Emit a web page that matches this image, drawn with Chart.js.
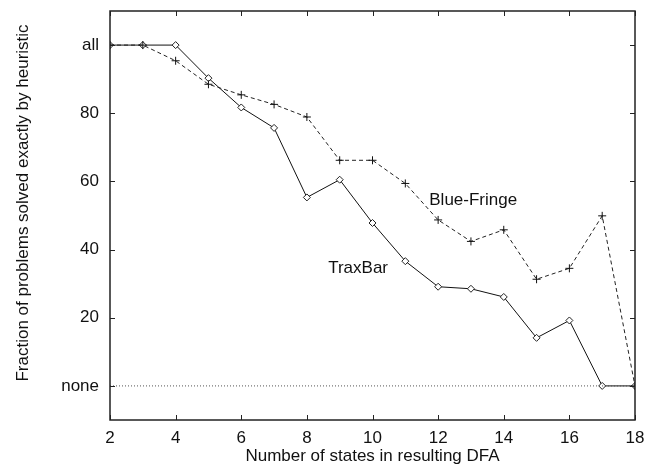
<!DOCTYPE html>
<html>
<head>
<meta charset="utf-8">
<script src="https://cdn.jsdelivr.net/npm/chart.js@4"></script>
<style>
  html, body { margin: 0; padding: 0; background: #fff; }
  #wrap { width: 646px; height: 465px; }
</style>
</head>
<body>
<div id="wrap"><canvas id="c" width="646" height="465"></canvas></div>
<script>
// number of states in the resulting DFA
const states = [2, 3, 4, 5, 6, 7, 8, 9, 10, 11, 12, 13, 14, 15, 16, 17, 18];
// percent of problems solved exactly (0 = none, 100 = all)
const traxBar    = [100, 100, 100, 90.3, 81.7, 75.7, 55.3, 60.5, 47.8, 36.6, 29.1, 28.5, 26.1, 14.1, 19.2, 0, 0];
const blueFringe = [100, 100, 95.4, 88.5, 85.4, 82.6, 78.9, 66.2, 66.2, 59.4, 48.7, 42.4, 45.8, 31.3, 34.5, 49.9, 0];
const xTicks = [2, 4, 6, 8, 10, 12, 14, 16, 18];
const yTicks = [0, 20, 40, 60, 80, 100];
const yTickNames = { 0: 'none', 100: 'all' };

const FONT = 'Liberation Sans';
const pts = arr => arr.map((v, i) => ({ x: states[i], y: v }));

// box, inward tick marks, axis titles and curve labels
const framePlugin = {
  id: 'frame',
  afterDatasetsDraw(chart) {
    const { ctx, chartArea: a, scales: { x, y } } = chart;
    ctx.save();
    ctx.strokeStyle = '#222';
    ctx.lineWidth = 1.5;
    ctx.strokeRect(a.left, a.top, a.right - a.left, a.bottom - a.top);
    ctx.lineWidth = 1;
    ctx.beginPath();
    xTicks.forEach(t => {
      const px = Math.round(x.getPixelForValue(t)) + 0.5;
      ctx.moveTo(px, a.bottom); ctx.lineTo(px, a.bottom - 5);
      ctx.moveTo(px, a.top); ctx.lineTo(px, a.top + 5);
    });
    yTicks.forEach(t => {
      const py = Math.round(y.getPixelForValue(t)) + 0.5;
      ctx.moveTo(a.left, py); ctx.lineTo(a.left + 5, py);
      ctx.moveTo(a.right, py); ctx.lineTo(a.right - 5, py);
    });
    ctx.stroke();

    ctx.fillStyle = '#111';
    ctx.font = `17px "${FONT}"`;
    ctx.textBaseline = 'alphabetic';
    ctx.textAlign = 'left';
    ctx.fillText('Blue-Fringe', x.getPixelForValue(11.73), y.getPixelForValue(53.1));
    ctx.fillText('TraxBar', x.getPixelForValue(8.65), y.getPixelForValue(33.2));

    ctx.textAlign = 'center';
    ctx.fillText('Number of states in resulting DFA', (a.left + a.right) / 2, 460.5);
    ctx.translate(28, 203);
    ctx.rotate(-Math.PI / 2);
    ctx.fillText('Fraction of problems solved exactly by heuristic', 0, 0);
    ctx.restore();
  }
};

new Chart(document.getElementById('c'), {
  type: 'line',
  data: {
    datasets: [
      { label: 'none', data: [{ x: 2, y: 0 }, { x: 18, y: 0 }], borderColor: '#555', borderWidth: 1,
        borderDash: [1, 2], pointRadius: 0 },
      { label: 'Blue-Fringe', data: pts(blueFringe), borderColor: '#222', borderWidth: 1, borderDash: [4, 3],
        pointStyle: 'cross', pointRadius: 4, pointBorderWidth: 1, pointBorderColor: '#111' },
      { label: 'TraxBar', data: pts(traxBar), borderColor: '#111', borderWidth: 1,
        pointStyle: 'rectRot', pointRadius: 3.5, pointBorderWidth: 1, pointBorderColor: '#222',
        pointBackgroundColor: '#fff' }
    ]
  },
  options: {
    responsive: false,
    animation: false,
    devicePixelRatio: 1,
    layout: { padding: { top: 11, right: 11, left: 0, bottom: 0 } },
    plugins: { legend: { display: false }, tooltip: { enabled: false } },
    scales: {
      x: {
        type: 'linear', min: 2, max: 18,
        afterFit: s => { s.height = 45; s.paddingLeft = 0; s.paddingRight = 0; },
        afterBuildTicks: s => { s.ticks = xTicks.map(v => ({ value: v })); },
        grid: { display: false, drawTicks: false },
        border: { display: false },
        ticks: { color: '#111', padding: 8, maxRotation: 0, font: { family: FONT, size: 17 } }
      },
      y: {
        type: 'linear', min: -10, max: 110,
        afterFit: s => { s.width = 110; s.paddingTop = 0; s.paddingBottom = 0; },
        afterBuildTicks: s => { s.ticks = yTicks.map(v => ({ value: v })); },
        grid: { display: false, drawTicks: false },
        border: { display: false },
        ticks: { color: '#111', padding: 11, font: { family: FONT, size: 17 },
          callback: v => yTickNames[v] || String(v) }
      }
    }
  },
  plugins: [framePlugin]
});
</script>
</body>
</html>
